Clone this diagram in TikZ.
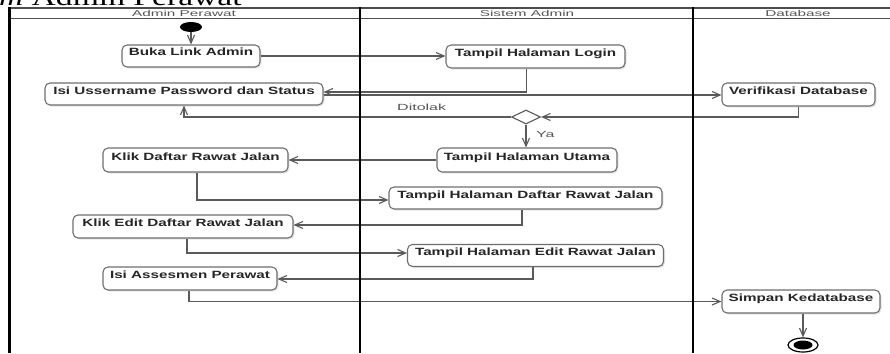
\documentclass[tikz,border=0pt]{standalone}
\usepackage{fontspec}
\newfontfamily\boxfont[FakeStretch=1.45]{Liberation Sans}
\newfontfamily\lblfont[FakeStretch=1.8]{Liberation Sans}
\newfontfamily\capfont[FakeStretch=1.4]{Liberation Serif}
\usetikzlibrary{shapes.geometric,arrows.meta,shadows}
\definecolor{linegray}{HTML}{5A5A5A}
\definecolor{boxgray}{HTML}{6E6E6E}
\definecolor{txtgray}{HTML}{555555}
\begin{document}
\begin{tikzpicture}[x=1pt,y=-1pt,
 act/.style={draw=boxgray, line width=1.1pt, rounded corners=5pt, fill=white, inner sep=0pt,
   font=\boxfont\bfseries\fontsize{10.5}{12}\selectfont, text=black!85,
   text height=7.5pt, text depth=7.5pt, align=center,
   drop shadow={shadow xshift=1.5pt, shadow yshift=-1.5pt, opacity=0.2}},
 flow/.style={draw=linegray, line width=1.1pt, -{Straight Barb[length=8pt,width=7pt]}},
 lanesep/.style={draw=black, line width=2pt},
 hdrline/.style={draw=black!70, line width=1.4pt},
 lbl/.style={font=\lblfont\fontsize{8.5}{10}\selectfont, text=txtgray, inner sep=0pt},
]
\useasboundingbox (0,0) rectangle (890,353);

% caption (cut off at top)
\node[anchor=base west, inner sep=0pt, font=\capfont\fontsize{24}{24}\selectfont] (cap) at (-31,5.5) {\textit{ram} Admin Perawat};

% lane titles
\node[lbl] (t1) at (184,13.5) {Admin Perawat};
\node[lbl] (t2) at (527,13.5) {Sistem Admin};
\node[lbl] (t3) at (798,13.5) {Database};

% nodes
\node[ellipse, fill=black, minimum width=22pt, minimum height=10pt, inner sep=0pt] (start) at (191,27) {};
\node[act, minimum width=138pt, minimum height=22pt] (buka) at (191,56) {Buka Link Admin};
\node[act, minimum width=179pt, minimum height=23pt] (login) at (535.5,56.5) {Tampil Halaman Login};
\node[act, minimum width=278pt, minimum height=22pt] (isi) at (184,94) {Isi Ussername Password dan Status};
\node[act, minimum width=153pt, minimum height=23pt] (verif) at (798.5,94.5) {Verifikasi Database};
\node[diamond, aspect=2, draw=linegray, line width=1.1pt, fill=white, minimum width=29pt, minimum height=14pt, inner sep=0pt] (dia) at (526,117) {};
\node[act, minimum width=180pt, minimum height=24pt] (utama) at (527,160) {Tampil Halaman Utama};
\node[act, minimum width=185pt, minimum height=24pt] (kd) at (195.5,160) {Klik Daftar Rawat Jalan};
\node[act, minimum width=273pt, minimum height=22pt] (td) at (525.5,198) {Tampil Halaman Daftar Rawat Jalan};
\node[act, minimum width=220pt, minimum height=23pt] (ke) at (183,226.5) {Klik Edit Daftar Rawat Jalan};
\node[act, minimum width=256pt, minimum height=22pt] (te) at (535.5,255.5) {Tampil Halaman Edit Rawat Jalan};
\node[act, minimum width=174pt, minimum height=23pt] (ia) at (190,278.5) {Isi Assesmen Perawat};
\node[act, minimum width=158pt, minimum height=23pt] (simpan) at (801,301.5) {Simpan Kedatabase};
\node[ellipse, draw=black, line width=1.2pt, fill=white, minimum width=30pt, minimum height=14pt, inner sep=0pt] (endo) at (803,345) {};
\node[ellipse, fill=black, minimum width=19pt, minimum height=9pt, inner sep=0pt] (endi) at (803,345) {};

% labels
\node[lbl, anchor=west, font=\lblfont\fontsize{8.9}{10}\selectfont] (ditolak) at (397,107) {Ditolak};
\node[lbl, anchor=west, font=\lblfont\fontsize{8.9}{10}\selectfont] (ya) at (536,134) {Ya};

% connectors
\draw[flow] (start.south) -- (buka.north);
\draw[flow] (buka.east) -- (buka.east -| login.west);
\draw[flow] ([xshift=-9pt]login.south) |- ([yshift=2pt]isi.east);
\draw[flow] ([yshift=-1pt]isi.east) -- ([yshift=-1pt]isi.east -| verif.west);
\draw[flow] (verif.south) |- (dia.east);
\draw[flow] (dia.west) -| (isi.south);
\draw[flow] (dia.south) -- (dia.south |- utama.north);
\draw[flow] (utama.west) -- (kd.east);
\draw[flow] ([xshift=1.5pt]kd.south) |- ([yshift=-2pt]td.west);
\draw[flow] ([xshift=-3.5pt]td.south) |- ([yshift=1.5pt]ke.east);
\draw[flow] ([xshift=4pt]ke.south) |- ([yshift=2.5pt]te.west);
\draw[flow] ([xshift=-2.5pt]te.south) |- ([yshift=-0.5pt]ia.east);
\draw[flow] ([xshift=-1pt]ia.south) |- (simpan.west);
\draw[flow] (simpan.south -| endo.north) -- (endo.north);

% swimlane frame
\draw[hdrline] (8,8) -- (890,8);
\draw[hdrline] (8,18.5) -- (890,18.5);
\draw[draw=black, line width=2.6pt] (9.5,7.3) -- (9.5,353);
\draw[lanesep] (360,7.3) -- (360,353);
\draw[lanesep] (693,7.3) -- (693,353);
\end{tikzpicture}
\end{document}
